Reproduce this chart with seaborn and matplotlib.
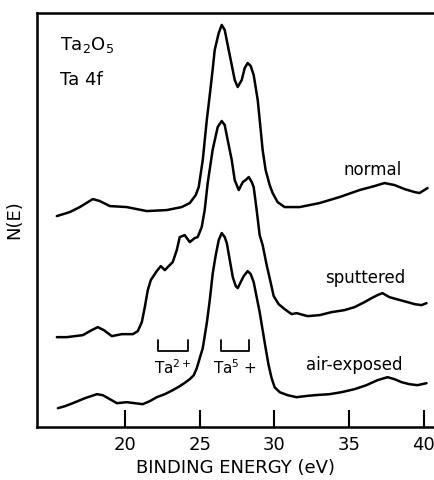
import numpy as np
import pandas as pd
import matplotlib
matplotlib.use("Agg")
import matplotlib.pyplot as plt
import seaborn as sns

# ---- data (binding energy in eV, intensity in arbitrary units) ----
normal_e = [15.43, 16.30, 16.97, 17.84, 18.31, 18.98, 20.11, 21.45, 22.79, 23.79,
            24.33, 24.73, 24.93, 25.20, 25.47, 25.67, 25.86, 26.00, 26.27, 26.47,
            26.67, 26.87, 27.14, 27.34, 27.54, 27.81, 28.01, 28.21, 28.41, 28.61,
            28.88, 29.08, 29.21, 29.41, 29.68, 29.88, 30.21, 30.68, 31.69, 33.02,
            34.36, 35.70, 36.70, 37.37, 38.04, 38.71, 39.38, 39.71, 40.25]
normal_i = [211, 215, 220, 228, 226, 221, 220, 216, 217, 220,
            224, 232, 240, 267, 307, 332, 357, 377, 394, 402,
            397, 382, 362, 347, 340, 347, 359, 364, 361, 352,
            327, 297, 277, 257, 242, 234, 225, 220, 220, 224,
            230, 237, 241, 244, 242, 238, 235, 234, 239]

sput_e = [15.43, 16.10, 16.63, 17.17, 17.64, 18.17, 18.58, 19.11, 19.78, 20.52,
          20.85, 21.12, 21.32, 21.52, 21.72, 22.12, 22.39, 22.66, 22.92, 23.19,
          23.46, 23.66, 23.99, 24.33, 24.66, 24.86, 25.13, 25.33, 25.53, 25.86,
          26.20, 26.47, 26.67, 26.87, 27.14, 27.34, 27.61, 27.88, 28.07, 28.28,
          28.48, 28.61, 28.81, 29.01, 29.21, 29.48, 29.68, 29.95, 30.28, 30.68,
          31.15, 31.48, 32.22, 33.02, 33.82, 34.69, 35.36, 36.03, 36.50, 36.90,
          37.23, 37.70, 38.17, 38.91, 39.38, 39.85, 40.18]
sput_i = [90, 90, 91, 92, 96, 100, 97, 91, 93, 93,
          96, 105, 120, 137, 147, 156, 161, 157, 161, 165,
          177, 190, 192, 185, 189, 190, 200, 217, 244, 277,
          300, 306, 302, 287, 267, 247, 237, 245, 247, 250,
          245, 240, 217, 192, 182, 162, 149, 131, 123, 118,
          113, 114, 111, 112, 115, 117, 120, 125, 129, 132,
          134, 130, 128, 125, 123, 122, 124]

air_e = [15.50, 15.97, 16.50, 17.31, 18.11, 18.51, 18.98, 19.45, 20.11, 20.65,
         21.18, 21.65, 22.12, 22.66, 23.19, 23.66, 24.06, 24.33, 24.60, 24.80,
         25.00, 25.20, 25.47, 25.67, 25.87, 26.07, 26.27, 26.47, 26.67, 26.81,
         27.01, 27.21, 27.41, 27.54, 27.74, 27.94, 28.21, 28.41, 28.61, 28.81,
         29.01, 29.21, 29.41, 29.61, 29.81, 30.01, 30.35, 30.88, 31.48, 32.02,
         32.69, 33.69, 34.49, 35.36, 36.16, 36.90, 37.57, 38.04, 38.51, 39.04,
         39.58, 40.18]
air_i = [19, 21, 24, 29, 33, 32, 28, 24, 25, 24,
         23, 26, 30, 33, 37, 41, 45, 48, 52, 59,
         69, 79, 104, 127, 154, 172, 187, 194, 190, 184,
         167, 150, 141, 139, 145, 151, 156, 153, 145, 130,
         115, 97, 79, 62, 49, 40, 35, 32, 30, 31,
         32, 33, 35, 38, 42, 47, 50, 48, 45, 43,
         42, 44]

series_names = ["normal", "sputtered", "air-exposed"]
series_label_pos = [(36.58, 257), (36.10, 149), (35.36, 62)]

bracket_names = ["Ta$^{2+}$", "Ta$^{5}$ +"]
bracket_ranges = [(22.19, 24.19), (26.40, 28.27)]
bracket_levels = (76, 87)
bracket_text_y = 60

xticks = [20, 25, 30, 35, 40]

# ---- figure ----
sns.set_style("ticks")
plt.rcParams['font.family'] = ['DejaVu Sans']
plt.rcParams['text.color'] = 'black'
plt.rcParams['axes.labelcolor'] = 'black'
plt.rcParams['xtick.color'] = 'black'
plt.rcParams['ytick.color'] = 'black'

fig = plt.figure(figsize=(4.35, 4.8), dpi=100)
ax = fig.add_axes([0.085, 0.110, 0.915, 0.863])

frames = []
for name, e, i in zip(series_names, [normal_e, sput_e, air_e], [normal_i, sput_i, air_i]):
    frames.append(pd.DataFrame({"E": e, "N": i, "series": name}))
df = pd.concat(frames, ignore_index=True)

for name in series_names:
    sub = df[df["series"] == name]
    sns.lineplot(data=sub, x="E", y="N", ax=ax, color="black", lw=1.8,
                 sort=False, estimator=None)

for name, (tx, ty) in zip(series_names, series_label_pos):
    ax.text(tx, ty, name, ha="center", va="center", fontsize=12, color="black")

for name, (x0, x1) in zip(bracket_names, bracket_ranges):
    lo, hi = bracket_levels
    ax.plot([x0, x0, x1, x1], [hi, lo, lo, hi], color="black", lw=1.3)
    ax.text((x0 + x1) / 2, bracket_text_y, name, ha="center", va="center",
            fontsize=11, color="black")

ax.text(15.63, 382, "Ta$_2$O$_5$", ha="left", va="center", fontsize=13, color="black")
ax.text(15.63, 347, "Ta 4f", ha="left", va="center", fontsize=13, color="black")

ax.set_xlim(14.1, 40.75)
ax.set_ylim(0, 414)
ax.set_xticks(xticks)
ax.set_xticklabels([str(t) for t in xticks], fontsize=13, color="black")
ax.set_yticks([])
ax.tick_params(axis="x", direction="in", length=12, width=1.5, pad=6, colors="black")
ax.set_xlabel("BINDING ENERGY (eV)", fontsize=13, labelpad=4, color="black")
ax.set_ylabel("N(E)", fontsize=13, labelpad=10, color="black")

for s in ["left", "bottom", "top"]:
    ax.spines[s].set_linewidth(1.8)
    ax.spines[s].set_color("black")
ax.spines["right"].set_visible(False)

fig.savefig("out.png", dpi=100)
